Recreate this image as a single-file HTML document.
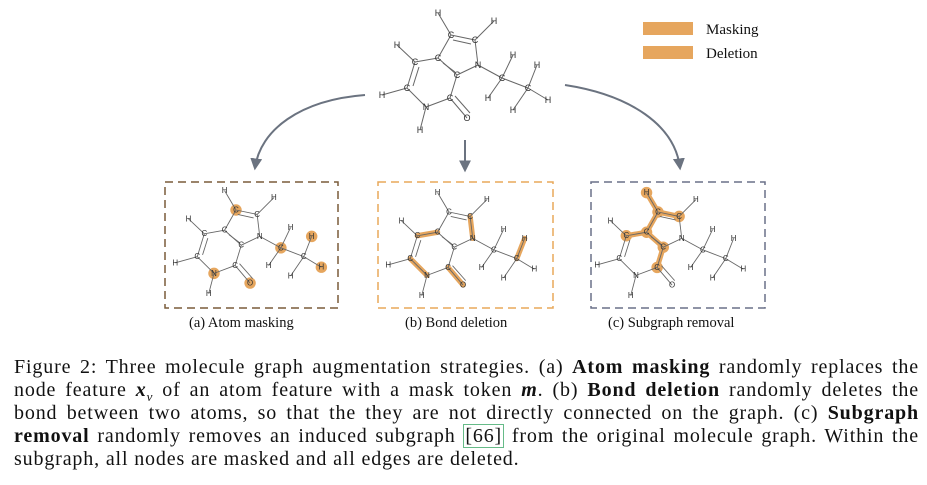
<!DOCTYPE html>
<html><head><meta charset="utf-8"><style>
body{margin:0;background:#fff;width:927px;height:485px;overflow:hidden;position:relative;font-family:"Liberation Serif",serif}
.cap{position:absolute;left:14px;top:356px;width:905px;font-size:20px;letter-spacing:0.85px;color:#111}
.ln{height:23px;line-height:23px;white-space:nowrap;text-align:justify;text-align-last:justify}
.ln.last{text-align-last:left}
sub{line-height:0;font-size:13px}
.lbl{position:absolute;top:315px;font-size:14.5px;color:#111}
</style></head><body>
<svg width="927" height="350" style="position:absolute;left:0;top:0" font-family="Liberation Sans, sans-serif">
<defs>
<marker id="ah" viewBox="0 0 10 10" refX="8" refY="5" markerWidth="6" markerHeight="6" orient="auto"><path d="M0,0L10,5L0,10z" fill="#6b7380"/></marker>
<g id="mol">
 <g stroke="#666" stroke-width="1" fill="none">
  <line x1="438" y1="13" x2="451" y2="35"/><line x1="451" y1="35" x2="475" y2="40"/><line x1="453" y1="40" x2="471" y2="44"/>
  <line x1="475" y1="40" x2="494" y2="21"/><line x1="451" y1="35" x2="438" y2="58"/><line x1="475" y1="40" x2="478" y2="65"/>
  <line x1="438" y1="58" x2="457" y2="75"/><line x1="443" y1="63" x2="455" y2="72"/><line x1="438" y1="58" x2="415" y2="62"/>
  <line x1="415" y1="62" x2="397" y2="45"/><line x1="415" y1="62" x2="407" y2="88"/><line x1="419" y1="67" x2="413" y2="86"/>
  <line x1="407" y1="88" x2="382" y2="95"/><line x1="407" y1="88" x2="426" y2="107"/><line x1="426" y1="107" x2="420" y2="130"/>
  <line x1="426" y1="107" x2="450" y2="98"/><line x1="450" y1="98" x2="457" y2="75"/><line x1="450" y1="98" x2="467" y2="118"/><line x1="455" y1="96" x2="470" y2="113"/>
  <line x1="457" y1="75" x2="478" y2="65"/><line x1="478" y1="65" x2="502" y2="78"/><line x1="502" y1="78" x2="513" y2="55"/>
  <line x1="502" y1="78" x2="488" y2="98"/><line x1="502" y1="78" x2="528" y2="88"/><line x1="528" y1="88" x2="537" y2="65"/>
  <line x1="528" y1="88" x2="548" y2="100"/><line x1="528" y1="88" x2="513" y2="110"/>
 </g>
 <g font-size="9" fill="#333" text-anchor="middle" dominant-baseline="central">
  <text x="438" y="13">H</text><text x="494" y="21">H</text><text x="451" y="35">C</text><text x="475" y="40">C</text>
  <text x="397" y="45">H</text><text x="438" y="58">C</text><text x="415" y="62">C</text><text x="478" y="65">N</text>
  <text x="513" y="55">H</text><text x="457" y="75">C</text><text x="502" y="78">C</text><text x="537" y="65">H</text>
  <text x="407" y="88">C</text><text x="382" y="95">H</text><text x="528" y="88">C</text><text x="426" y="107">N</text>
  <text x="450" y="98">C</text><text x="488" y="98">H</text><text x="548" y="100">H</text><text x="513" y="110">H</text>
  <text x="467" y="118">O</text><text x="420" y="130">H</text>
 </g>
</g>
</defs>
<use href="#mol"/>
<path d="M365,95 C300,100 260,130 255,168" stroke="#6b7380" stroke-width="2" fill="none" marker-end="url(#ah)"/>
<path d="M465,140 L465,170" stroke="#6b7380" stroke-width="2" fill="none" marker-end="url(#ah)"/>
<path d="M565,85 C630,95 675,125 680,168" stroke="#6b7380" stroke-width="2" fill="none" marker-end="url(#ah)"/>
<rect x="643" y="22" width="50" height="13" fill="#e6a65e"/>
<text x="706" y="34" font-family="Liberation Serif, serif" font-size="15" fill="#111">Masking</text>
<rect x="643" y="46" width="50" height="13" fill="#e6a65e"/>
<text x="706" y="58" font-family="Liberation Serif, serif" font-size="15" fill="#111">Deletion</text>
<rect x="165" y="182" width="173" height="126" fill="none" stroke="#7a5c3a" stroke-width="1.5" stroke-dasharray="8,5"/>
<rect x="378" y="182" width="175" height="126" fill="none" stroke="#e8a85a" stroke-width="1.5" stroke-dasharray="8,5"/>
<rect x="591" y="182" width="174" height="126" fill="none" stroke="#6a7088" stroke-width="1.5" stroke-dasharray="8,5"/>
<g transform="translate(236,210) scale(0.88) translate(-451,-35)">
 <g fill="#e6a65e"><circle cx="451" cy="35" r="6.5"/><circle cx="426" cy="107" r="6.5"/><circle cx="467" cy="118" r="6.5"/><circle cx="502" cy="78" r="6.5"/><circle cx="537" cy="65" r="6.5"/><circle cx="548" cy="100" r="6.5"/></g>
 <use href="#mol"/>
</g>
<g transform="translate(449,212) scale(0.88) translate(-451,-35)">
 <g stroke="#e6a65e" stroke-width="6" stroke-linecap="round"><line x1="475" y1="40" x2="478" y2="65"/><line x1="438" y1="58" x2="415" y2="62"/><line x1="407" y1="88" x2="426" y2="107"/><line x1="450" y1="98" x2="467" y2="118"/><line x1="528" y1="88" x2="537" y2="65"/></g>
 <use href="#mol"/>
</g>
<g transform="translate(658,212) scale(0.88) translate(-451,-35)">
 <g stroke="#e6a65e" stroke-width="6" stroke-linecap="round"><line x1="438" y1="13" x2="451" y2="35"/><line x1="451" y1="35" x2="475" y2="40"/><line x1="451" y1="35" x2="438" y2="58"/><line x1="438" y1="58" x2="415" y2="62"/><line x1="438" y1="58" x2="457" y2="75"/><line x1="457" y1="75" x2="450" y2="98"/></g>
 <g fill="#e6a65e"><circle cx="438" cy="13" r="6.5"/><circle cx="451" cy="35" r="6.5"/><circle cx="475" cy="40" r="6.5"/><circle cx="438" cy="58" r="6.5"/><circle cx="415" cy="62" r="6.5"/><circle cx="457" cy="75" r="6.5"/><circle cx="450" cy="98" r="6.5"/></g>
 <use href="#mol"/>
</g>
</svg>
<div class="lbl" style="left:189px">(a) Atom masking</div>
<div class="lbl" style="left:405px">(b) Bond deletion</div>
<div class="lbl" style="left:608px">(c) Subgraph removal</div>
<div class="cap">
<div class="ln">Figure 2: Three molecule graph augmentation strategies. (a) <b>Atom masking</b> randomly replaces the</div>
<div class="ln">node feature <b><i>x</i></b><sub><i>v</i></sub> of an atom feature with a mask token <b><i>m</i></b>. (b) <b>Bond deletion</b> randomly deletes the</div>
<div class="ln">bond between two atoms, so that the they are not directly connected on the graph. (c) <b>Subgraph</b></div>
<div class="ln"><b>removal</b> randomly removes an induced subgraph <span style="border:1px solid #6b8;padding:0 1px">[66]</span> from the original molecule graph. Within the</div>
<div class="ln last">subgraph, all nodes are masked and all edges are deleted.</div>
</div>
</body></html>
